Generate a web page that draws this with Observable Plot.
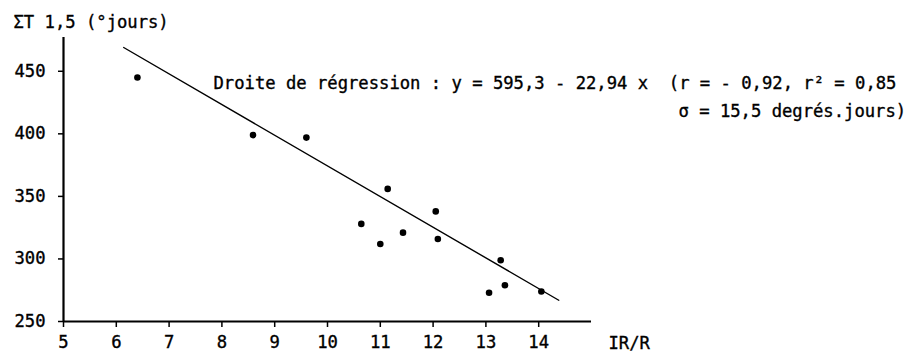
<!DOCTYPE html>
<html>
<head>
<meta charset="utf-8">
<script src="https://cdn.jsdelivr.net/npm/d3@7"></script>
<script src="https://cdn.jsdelivr.net/npm/@observablehq/plot@0.6"></script>
<style>
  html, body { margin: 0; padding: 0; background: #fff; }
  #chart svg text { stroke: #000; stroke-width: 0.35px; }
</style>
</head>
<body>
<div id="chart"></div>
<script>
// Observed points (IR/R vs ΣT 1,5 in degree-days)
const irR  = [6.40, 8.59, 9.60, 11.14, 12.05, 10.64, 11.43, 11.00, 12.09, 13.28, 13.36, 13.06, 14.05];
const sumT = [445, 399, 397, 356, 338, 328, 321, 312, 316, 299, 279, 273, 274];

// Regression line as drawn (end points)
const lineX = [6.14, 14.38];
const lineY = [469, 267];

// Axis ticks
const xTicks = [5, 6, 7, 8, 9, 10, 11, 12, 13, 14];
const yTicks = [250, 300, 350, 400, 450];

// Texts
const yTitle = "ΣT 1,5 (°jours)";
const xTitle = "IR/R";
const note1 = "Droite de régression : y = 595,3 - 22,94 x  (r = - 0,92, r² = 0,85";
const note2 = "σ = 15,5 degrés.jours)";

const points = irR.map((x, i) => ({x, y: sumT[i]}));
const reg = lineX.map((x, i) => ({x, y: lineY[i]}));

const chart = Plot.plot({
  width: 906,
  height: 353,
  marginLeft: 63,
  marginRight: 315,
  marginTop: 37,
  marginBottom: 32,
  style: {fontFamily: "'DejaVu Sans Mono', monospace", fontSize: "17.2px", background: "#fff", color: "#000"},
  x: {domain: [5, 15]},
  y: {domain: [250, 477]},
  marks: [
    Plot.axisX({ticks: xTicks, tickSize: 6, tickPadding: 8, label: null, tickFormat: d => String(d), strokeWidth: 1.5}),
    Plot.axisY({ticks: yTicks, tickSize: 5, tickPadding: 13, label: null, tickFormat: d => String(d), strokeWidth: 1.5}),
    Plot.ruleX([5], {stroke: "#000", strokeWidth: 2.2}),
    Plot.ruleY([250], {stroke: "#000", strokeWidth: 2.2}),
    Plot.line(reg, {x: "x", y: "y", stroke: "#000", strokeWidth: 1.4}),
    Plot.dot(points, {x: "x", y: "y", r: 3.3, fill: "#000", stroke: "none"}),
    Plot.text([yTitle], {frameAnchor: "top-left", dx: -50, dy: -10, textAnchor: "start", lineAnchor: "bottom", fill: "#000"}),
    Plot.text([xTitle], {frameAnchor: "bottom-right", dx: 17, dy: 27, textAnchor: "start", lineAnchor: "bottom", fill: "#000"}),
    Plot.text([note1], {frameAnchor: "top-left", dx: 150, dy: 51, textAnchor: "start", lineAnchor: "bottom", fill: "#000"}),
    Plot.text([note2], {frameAnchor: "top-left", dx: 615, dy: 79, textAnchor: "start", lineAnchor: "bottom", fill: "#000"})
  ]
});
document.getElementById("chart").appendChild(chart);
</script>
</body>
</html>
